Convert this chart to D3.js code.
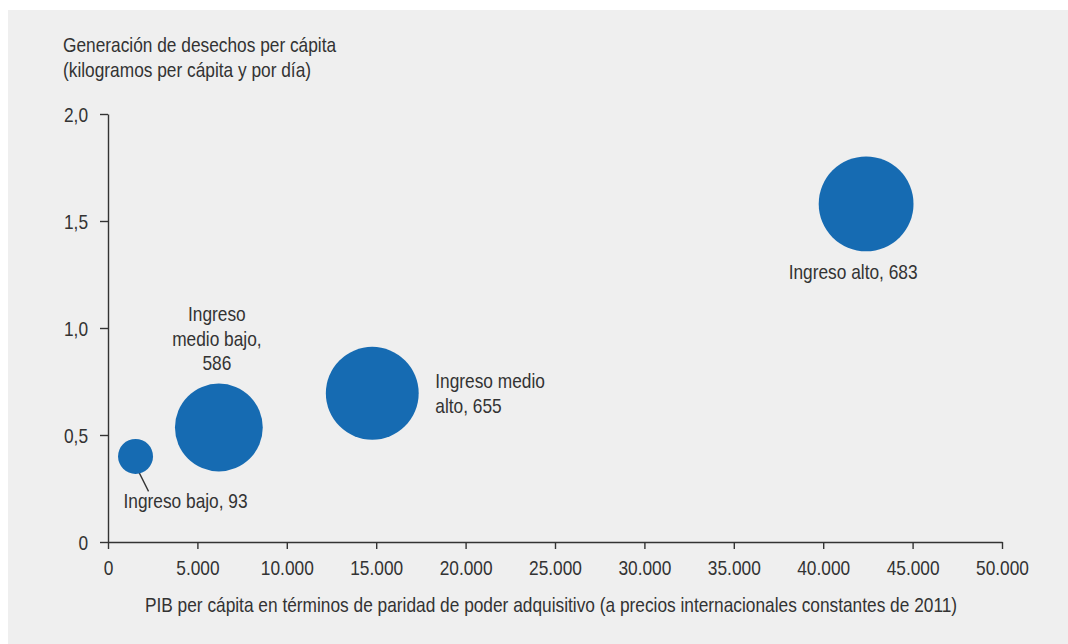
<!DOCTYPE html>
<html><head><meta charset="utf-8">
<script src="https://cdn.jsdelivr.net/npm/d3@7"></script>
<style>
html,body{margin:0;padding:0;background:#fff;}
svg text{font-family:"Liberation Sans",Arial,sans-serif;fill:#333;}
</style></head><body>
<svg id="c" width="1068" height="644"></svg>
<script>
const groups = ["Ingreso bajo", "Ingreso medio bajo", "Ingreso medio alto", "Ingreso alto"];
const gdpPerCapita = [1540, 6200, 14780, 42400];
const wastePerCapita = [0.40, 0.535, 0.695, 1.58];
const population = [93, 586, 655, 683];
const labelLines = [["Ingreso bajo, 93"], ["Ingreso", "medio bajo,", "586"], ["Ingreso medio", "alto, 655"], ["Ingreso alto, 683"]];
const xTicks = [0, 5000, 10000, 15000, 20000, 25000, 30000, 35000, 40000, 45000, 50000];
const yTicks = [0, 0.5, 1.0, 1.5, 2.0];
const yTitle = ["Generación de desechos per cápita", "(kilogramos per cápita y por día)"];
const xTitle = "PIB per cápita en términos de paridad de poder adquisitivo (a precios internacionales constantes de 2011)";

const loc = d3.formatLocale({decimal: ",", thousands: ".", grouping: [3], currency: ["", ""]});
const fx = loc.format(",d");
const fy = d => d === 0 ? "0" : loc.format(".1f")(d);

const svg = d3.select("#c");
svg.append("rect").attr("x", 8).attr("y", 10).attr("width", 1060).attr("height", 634).attr("fill", "#efefef");

// horizontal condensing factor, measured so the x title spans the reference width (~813px)
const probe = svg.append("text").attr("font-size", 20).text(xTitle);
const S = 813 / probe.node().getComputedTextLength();
probe.remove();

const x = d3.scaleLinear().domain([0, 50000]).range([108, 1002]);
const y = d3.scaleLinear().domain([0, 2]).range([542, 114]);
const r = d3.scaleSqrt().domain([0, 683]).range([0, 47.4]);

const xAx = svg.append("g").attr("transform", "translate(0,542)")
  .call(d3.axisBottom(x).tickValues(xTicks).tickFormat(fx).tickSize(7).tickSizeOuter(0));
const yAx = svg.append("g").attr("transform", "translate(108,0)")
  .call(d3.axisLeft(y).tickValues(yTicks).tickFormat(fy).tickSize(8).tickSizeOuter(0));
[xAx, yAx].forEach(a => {
  a.selectAll("path,line").attr("stroke", "#333").attr("stroke-width", 1.4);
  a.selectAll("text").attr("font-size", 20).attr("fill", "#333").attr("font-family", null)
    .attr("transform", `scale(${S},1)`);
});
xAx.selectAll("text").attr("dy", null).attr("y", 33);
yAx.selectAll("text").attr("x", -20 / S).attr("dy", "0.35em");

const data = groups.map((g, i) => ({g, x: gdpPerCapita[i], y: wastePerCapita[i], p: population[i], lines: labelLines[i]}));

function label(px, py, lines, anchor) {
  const g = svg.append("g").attr("transform", `translate(${px},${py}) scale(${S},1)`);
  const t = g.append("text").attr("font-size", 20).attr("text-anchor", anchor);
  lines.forEach((l, j) => t.append("tspan").attr("x", 0).attr("y", j * 25).text(l));
}

// leader line for small bubble
const d0 = data[0];
svg.append("line")
  .attr("x1", x(d0.x) + 1).attr("y1", y(d0.y) + 11)
  .attr("x2", x(d0.x) + 13).attr("y2", y(d0.y) + 35)
  .attr("stroke", "#333").attr("stroke-width", 1.3);

svg.selectAll("circle.b").data(data).join("circle").attr("class", "b")
  .attr("cx", d => x(d.x)).attr("cy", d => y(d.y)).attr("r", d => r(d.p))
  .attr("fill", "#166bb2");

const place = [
  {dx: 50, dy: 52, anchor: "middle"},
  {dx: -2, dy: -107, anchor: "middle"},
  {dx: 63, dy: -5, anchor: "start"},
  {dx: -13, dy: 75, anchor: "middle"}
];
data.forEach((d, i) => label(x(d.x) + place[i].dx, y(d.y) + place[i].dy, d.lines, place[i].anchor));

label(63, 52, yTitle, "start");
label(551, 612, [xTitle], "middle");
</script>
</body></html>
